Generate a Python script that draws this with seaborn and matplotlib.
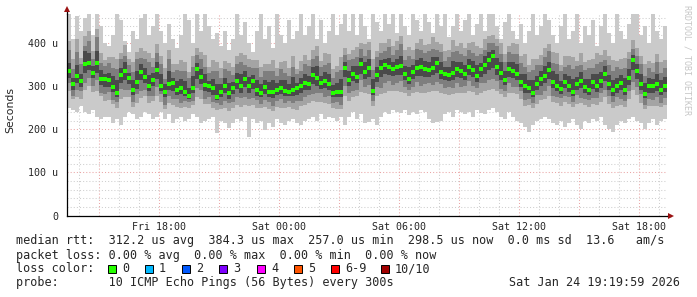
import numpy as np
import pandas as pd
import matplotlib
matplotlib.use("Agg")
import matplotlib.pyplot as plt
import matplotlib.dates as mdates
from matplotlib.ticker import MultipleLocator, FuncFormatter
from matplotlib.patches import Rectangle
import seaborn as sns

sns.set_style("white")
plt.rcParams["font.family"] = ["DejaVu Sans Mono", "DejaVu Sans"]

# ---------------- data (microseconds), one value per 12-minute step ----------------
START = "2026-01-23 13:24"
STEP_MIN = 12

median_us = [335,305,325,312,352,355,332,354,318,317,
             314,299,285,327,336,320,293,311,334,322,
             302,316,338,300,287,306,308,293,296,288,
             279,296,340,321,304,300,296,276,288,300,
             284,296,312,302,318,300,312,291,286,298,
             288,287,292,296,290,287,292,296,300,308,
             306,326,320,309,312,305,286,287,288,344,
             316,330,322,352,334,343,290,327,342,350,
             345,340,345,347,330,318,334,342,345,341,
             338,344,354,334,328,326,332,340,336,330,
             345,338,325,340,350,362,370,345,332,315,
             340,336,328,310,300,296,285,305,318,325,
             338,310,302,295,310,300,288,305,312,298,
             292,310,302,313,330,305,291,300,308,292,
             320,362,335,306,283,300,300,305,292,302]

# ping 1 / ping 10 (outermost smoke)
outer_hi = [468,410,465,430,460,468,420,468,440,400,
            395,420,468,455,405,380,430,410,460,468,
            420,440,468,430,400,445,410,390,420,468,
            455,400,468,430,468,440,410,425,395,430,
            385,410,468,420,450,400,380,430,468,410,
            440,390,468,420,400,455,410,430,468,420,
            440,468,410,455,400,430,468,420,445,468,
            430,468,420,468,440,410,468,450,430,468,
            445,468,425,468,440,420,468,455,430,468,
            450,425,468,440,468,415,440,468,430,455,
            468,420,445,468,430,468,468,440,410,450,
            468,430,410,445,400,430,468,420,440,468,
            455,420,400,440,468,410,430,468,400,440,
            420,455,395,440,468,425,400,468,430,410,
            445,468,468,420,440,400,468,430,410,440]

outer_lo = [250,245,240,255,240,235,245,230,225,230,
            230,215,225,210,230,240,235,225,230,240,
            235,225,230,240,225,235,215,225,230,220,
            225,235,230,215,220,225,230,192,220,215,
            203,215,225,220,230,182,225,215,220,199,
            215,206,225,215,210,220,225,215,210,220,
            225,230,220,235,225,230,227,220,230,210,
            230,240,225,235,215,218,225,210,230,240,
            235,245,240,238,245,233,240,235,245,240,
            225,215,218,220,235,240,230,245,240,235,
            240,230,245,238,235,245,250,240,230,225,
            240,230,220,215,205,195,210,220,225,230,
            225,215,210,220,205,215,225,210,200,220,
            215,225,220,230,210,200,195,210,220,215,
            225,230,220,215,200,215,225,210,220,225]

# ping 2 / ping 9
mid_hi = [405,365,410,367,417,430,382,434,378,362,
          369,369,365,377,396,365,358,381,389,382,
          377,366,398,370,342,386,353,353,361,358,
          334,371,390,381,374,345,361,356,343,360,
          354,346,372,377,373,365,362,361,346,353,
          353,362,342,356,360,342,372,341,360,373,
          361,386,395,359,377,375,341,347,368,389,
          376,385,392,402,399,403,365,382,402,400,
          410,395,405,417,385,393,384,402,410,396,
          398,414,404,399,383,386,407,395,401,390,
          400,403,395,390,410,417,420,410,402,375,
          395,401,398,370,375,351,365,365,373,390,
          398,380,377,350,370,370,368,360,377,358,
          362,365,377,373,385,370,361,360,363,367,
          380,407,390,371,353,360,355,375,357,362]

mid_lo = [290,270,275,272,292,300,287,289,278,267,
          269,259,250,272,276,275,253,261,274,277,
          262,266,278,265,247,261,258,253,251,253,
          249,256,275,271,259,260,251,246,248,250,
          244,251,257,252,258,255,257,251,251,253,
          248,242,252,251,250,252,247,246,255,258,
          261,266,265,264,262,260,251,247,248,279,
          266,275,277,287,284,283,255,277,282,285,
          290,290,290,287,285,278,284,287,285,286,
          288,289,289,284,283,281,282,285,286,285,
          290,288,280,285,290,292,295,290,282,275,
          285,286,283,270,255,256,250,260,268,270,
          278,265,262,255,265,260,253,260,262,258,
          252,260,257,263,275,260,251,255,258,252,
          270,292,280,261,248,255,255,255,252,257]

# ping 3 / ping 8
inner_hi = [385,340,380,352,395,406,363,414,354,347,
            355,343,340,363,371,350,334,364,366,363,
            357,346,378,353,318,363,334,339,335,336,
            320,345,373,365,346,331,337,337,320,341,
            336,326,352,357,349,345,342,344,322,335,
            336,335,324,340,332,325,345,330,336,352,
            347,363,371,345,350,354,320,333,339,373,
            361,363,369,388,372,385,339,369,378,383,
            393,373,385,398,361,371,364,388,384,378,
            383,388,386,381,359,368,381,382,375,371,
            386,378,372,376,385,400,400,394,375,356,
            381,376,375,354,346,334,338,351,350,369,
            383,354,353,335,345,349,341,347,351,339,
            344,343,353,357,361,350,336,346,340,344,
            365,388,372,353,325,342,334,358,331,343]

inner_lo = [308,277,291,290,309,320,301,314,286,283,
            287,269,263,295,293,291,265,282,289,292,
            279,279,298,282,258,277,272,271,262,266,
            263,266,297,293,272,275,264,261,257,267,
            261,263,276,274,275,272,274,269,259,268,
            265,254,266,272,261,266,261,267,266,275,
            280,282,284,285,276,277,262,265,257,301,
            286,290,293,314,298,304,266,298,297,307,
            312,303,309,312,298,293,299,310,300,305,
            308,304,311,306,296,298,297,308,298,301,
            312,301,296,309,307,316,318,313,294,289,
            307,299,299,289,268,271,261,280,280,289,
            301,277,276,274,278,275,264,280,274,272,
            269,273,273,285,291,277,263,275,270,266,
            290,311,299,282,258,272,269,276,261,273]

# ping 4..7 (core)
core_hi = [355,320,350,330,382,377,347,382,338,329,
           332,324,315,342,356,332,315,336,352,342,
           327,331,358,328,305,336,320,313,318,313,
           297,324,355,341,329,312,318,306,306,320,
           309,311,332,330,336,322,327,316,306,316,
           310,315,307,316,315,305,322,308,320,330,
           324,346,348,324,334,330,304,307,318,356,
           336,348,347,367,356,363,318,345,362,365,
           367,358,365,372,348,346,349,362,367,359,
           358,369,369,356,346,346,360,358,358,350,
           363,360,350,355,370,380,385,367,357,335,
           358,358,353,330,328,314,315,325,336,347,
           358,335,330,313,330,325,318,323,334,318,
           317,328,330,333,348,327,316,320,326,320,
           340,374,353,328,308,320,318,330,314,322]

core_lo = [320,293,307,298,332,339,320,332,304,299,
           299,287,275,309,316,305,281,295,314,307,
           290,300,318,290,275,291,290,281,282,278,
           271,284,318,305,290,288,281,268,276,284,
           272,282,294,286,298,286,294,279,276,283,
           276,273,280,282,278,277,278,280,286,292,
           292,306,302,295,296,291,276,275,276,322,
           300,312,308,330,318,323,280,311,322,328,
           327,324,327,327,316,306,318,324,325,323,
           322,326,332,318,314,312,316,322,320,316,
           327,322,311,322,330,338,344,327,316,303,
           322,320,314,298,286,284,275,291,302,307,
           318,296,290,283,296,288,278,291,296,286,
           280,294,288,297,312,291,279,286,292,280,
           304,338,317,292,273,286,286,289,280,288]

y_ticks = [0, 100, 200, 300, 400]
y_tick_labels = ["0", "100 u", "200 u", "300 u", "400 u"]

loss_labels = ["0", "1", "2", "3", "4", "5", "6-9", "10/10"]
loss_colors = ["#26ff00", "#00b8ff", "#0059ff", "#7e00ff", "#ff00ff",
               "#ff5500", "#ff0000", "#a10000"]

legend_lines = [
    "median rtt:  312.2 us avg  384.3 us max  257.0 us min  298.5 us now  0.0 ms sd  13.6   am/s",
    "packet loss: 0.00 % avg  0.00 % max  0.00 % min  0.00 % now",
    "loss color:",
    "probe:       10 ICMP Echo Pings (56 Bytes) every 300s",
]
stamp = "Sat Jan 24 19:19:59 2026"

# ---------------- frame ----------------
N = len(median_us)
edges = pd.date_range(START, periods=N + 1, freq=f"{STEP_MIN}min")
centers = edges[:-1] + pd.Timedelta(minutes=STEP_MIN / 2)
df = pd.DataFrame({"time": centers, "median": median_us})

def ext(a):
    return list(a) + [a[-1]]

W, H = 697, 297
fig = plt.figure(figsize=(W / 100, H / 100), dpi=100)
ax = fig.add_axes([67 / W, (H - 215.5) / H, 600 / W, 201.5 / H])

bands = [(outer_lo, outer_hi, "#cacaca"),
         (mid_lo, mid_hi, "#a4a4a4"),
         (inner_lo, inner_hi, "#7e7e7e"),
         (core_lo, core_hi, "#4a4a4a")]
for k, (lo, hi, col) in enumerate(bands):
    ax.fill_between(edges, ext(lo), ext(hi), step="post", color=col, lw=0, zorder=2 + 0.1 * k)

sns.scatterplot(data=df, x="time", y="median", marker="s", s=5.5, color="#26ff00",
                linewidth=0, ax=ax, zorder=5, legend=False)

ax.set_xlim(edges[0], edges[-1])
ax.set_ylim(0, 468.6)

ax.xaxis.set_major_locator(mdates.HourLocator(byhour=range(0, 24, 3)))
ax.xaxis.set_minor_locator(mdates.HourLocator())
def xfmt(v, pos):
    d = mdates.num2date(v)
    return d.strftime("%a %H:%M") if d.hour % 6 == 0 else ""
ax.xaxis.set_major_formatter(FuncFormatter(xfmt))

ax.set_yticks(y_ticks)
ax.set_yticklabels(y_tick_labels)
ax.yaxis.set_minor_locator(MultipleLocator(20))

dot = (0, (1, 2))
ax.grid(which="minor", color="#cfcfcf", linestyle=dot, linewidth=0.75)
ax.grid(which="major", color="#eaa6a6", linestyle=dot, linewidth=0.75)
for gl in ax.get_xgridlines() + ax.get_ygridlines():
    gl.set_zorder(1)

ax.set_xlabel("")
ax.set_ylabel("")
ax.tick_params(axis="both", which="major", labelsize=7.2, length=3, width=0.7,
               direction="out", color="black")
ax.tick_params(axis="both", which="minor", length=2, width=0.7, direction="out", color="black")
ax.tick_params(axis="x", pad=1.5)
ax.tick_params(axis="y", pad=3.5)

for s in ("top", "right"):
    ax.spines[s].set_visible(False)
for s in ("left", "bottom"):
    ax.spines[s].set_color("black")
    ax.spines[s].set_linewidth(0.9)
    ax.spines[s].set_zorder(6)

# axis arrows
ax.plot([1.0, 1.006], [0, 0], transform=ax.transAxes, color="black", lw=0.9, clip_on=False, zorder=6)
ax.plot([0, 0], [1.0, 1.02], transform=ax.transAxes, color="black", lw=0.9, clip_on=False, zorder=6)
ax.plot([1.007], [0], transform=ax.transAxes, marker=">", ms=4.5, color="#9b1111",
        clip_on=False, zorder=7, mew=0)
ax.plot([0], [1.025], transform=ax.transAxes, marker="^", ms=4.5, color="#9b1111",
        clip_on=False, zorder=7, mew=0)

# y label and watermark
fig.text(10 / W, 1 - 110 / H, "Seconds", rotation=90, ha="center", va="center",
         family=["DejaVu Sans"], size=7.8)
fig.text(687 / W, 1 - 5 / H, "RRDTOOL / TOBI OETIKER", rotation=270, ha="center", va="top",
         size=6, color="#c6c6c6")

# legend block
ys = [240.7, 255, 269, 282.5]
for txt, yp in zip(legend_lines, ys):
    fig.text(16 / W, 1 - yp / H, txt, ha="left", va="center", size=8.5)
fig.text(680 / W, 1 - ys[3] / H, stamp, ha="right", va="center", size=8.5)

sq_x = [108, 145, 182, 219, 257, 294, 331, 381]
for xp, lab, col in zip(sq_x, loss_labels, loss_colors):
    fig.patches.append(Rectangle((xp / W, 1 - (ys[2] + 4) / H), 8 / W, 8 / H,
                                 transform=fig.transFigure, facecolor=col,
                                 edgecolor="black", linewidth=0.7))
    fig.text((xp + 14) / W, 1 - ys[2] / H, lab, ha="left", va="center", size=8.5)

fig.savefig("out.png", dpi=100)
